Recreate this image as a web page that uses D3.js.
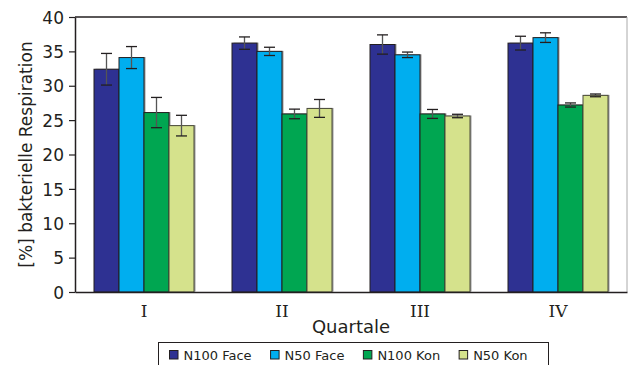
<!DOCTYPE html>
<html>
<head>
<meta charset="utf-8">
<script src="https://cdn.jsdelivr.net/npm/d3@7"></script>
<style>
  html, body { margin: 0; padding: 0; background: #fff; }
  svg { display: block; }
</style>
</head>
<body>
<svg id="chart" width="628" height="365"></svg>
<script>
// data
const quarters = ['I', 'II', 'III', 'IV'];
const series = ['N100 Face', 'N50 Face', 'N100 Kon', 'N50 Kon'];
const colors = ['#2e3192', '#00aeef', '#00a651', '#d5e28c'];
const values = [
  [32.4, 34.1, 26.1, 24.2],   // I
  [36.2, 35.0, 25.9, 26.7],   // II
  [36.0, 34.5, 25.9, 25.6],   // III
  [36.2, 37.0, 27.2, 28.6]    // IV
];
const errors = [
  [2.3, 1.6, 2.2, 1.5],
  [0.9, 0.6, 0.7, 1.3],
  [1.4, 0.4, 0.65, 0.25],
  [1.0, 0.7, 0.3, 0.2]
];
const yTicks = [0, 5, 10, 15, 20, 25, 30, 35, 40];

const SANS = '"DejaVu Sans", Verdana, sans-serif';
const SERIF = '"DejaVu Serif", serif';
const INK = '#231f20';

const svg = d3.select('#chart');
const m = { left: 75, right: 627, top: 17, bottom: 292 };

const x0 = d3.scaleBand().domain(quarters).range([m.left, m.right]);
const groupW = 100;
const x1 = d3.scaleBand().domain(series).range([0, groupW]);
const y = d3.scaleLinear().domain([0, 40]).range([m.bottom, m.top]);

const rows = [];
quarters.forEach((q, i) => series.forEach((s, j) => {
  rows.push({ q, s, j, v: values[i][j], e: errors[i][j] });
}));

// frame: top dark, right light gray
svg.append('line').attr('x1', m.left).attr('x2', m.right).attr('y1', m.top).attr('y2', m.top)
  .attr('stroke', INK).attr('stroke-width', 1.5);
svg.append('line').attr('x1', m.right).attr('x2', m.right).attr('y1', m.top).attr('y2', m.bottom)
  .attr('stroke', '#aaa').attr('stroke-width', 1);

const gx = q => x0(q) + (x0.bandwidth() - groupW) / 2;

// bar shadows (slight gray edge on the right)
svg.append('g').selectAll('rect').data(rows).enter().append('rect')
  .attr('x', d => gx(d.q) + x1(d.s) + 1.5)
  .attr('y', d => y(d.v) - 0.5)
  .attr('width', x1.bandwidth())
  .attr('height', d => y(0) - y(d.v))
  .attr('fill', '#999');

// bars
svg.append('g').selectAll('rect').data(rows).enter().append('rect')
  .attr('x', d => gx(d.q) + x1(d.s))
  .attr('y', d => y(d.v))
  .attr('width', x1.bandwidth())
  .attr('height', d => y(0) - y(d.v))
  .attr('fill', d => colors[d.j])
  .attr('stroke', d => d.j === 3 ? '#4a4a3a' : INK)
  .attr('stroke-width', 1);

// error bars: gray stem, dark caps
const err = svg.append('g').attr('stroke-width', 1.3);
const cap = 5.5;
rows.forEach(d => {
  const cx = gx(d.q) + x1(d.s) + x1.bandwidth() / 2;
  err.append('line').attr('x1', cx).attr('x2', cx).attr('y1', y(d.v + d.e)).attr('y2', y(d.v - d.e))
    .attr('stroke', '#555');
  [d.v + d.e, d.v - d.e].forEach(v => {
    err.append('line').attr('x1', cx - cap).attr('x2', cx + cap).attr('y1', y(v)).attr('y2', y(v))
      .attr('stroke', INK);
  });
});

// y axis
const yAxis = svg.append('g').attr('transform', `translate(${m.left},0)`)
  .call(d3.axisLeft(y).tickValues(yTicks).tickSize(6).tickPadding(5).tickSizeOuter(0));
yAxis.attr('font-family', null).attr('font-size', null);
yAxis.select('.domain').attr('stroke', INK).attr('stroke-width', 1.5);
yAxis.selectAll('.tick line').attr('stroke', INK).attr('stroke-width', 1.2);
yAxis.selectAll('.tick text').style('font-family', SANS)
  .style('font-size', '17px').attr('fill', INK).attr('dy', '0.36em');

// x axis
const xAxis = svg.append('g').attr('transform', `translate(0,${m.bottom})`)
  .call(d3.axisBottom(x0).tickSize(0).tickPadding(0).tickSizeOuter(0));
xAxis.attr('font-family', null).attr('font-size', null);
xAxis.select('.domain').attr('stroke', INK).attr('stroke-width', 1.5);
xAxis.selectAll('.tick text').style('font-family', SERIF)
  .style('font-size', '17px').attr('fill', INK).attr('dy', null).attr('y', 25);

// axis titles
svg.append('text').attr('x', (m.left + m.right) / 2).attr('y', 333)
  .attr('text-anchor', 'middle').style('font-family', SANS).style('font-size', '18px')
  .attr('fill', INK).text('Quartale');
svg.append('text').attr('transform', `translate(32,${(m.top + m.bottom) / 2}) rotate(-90)`)
  .attr('text-anchor', 'middle').style('font-family', SANS).style('font-size', '17px')
  .attr('fill', INK).text('[%] bakterielle Respiration');

// legend
const lg = svg.append('g');
lg.append('rect').attr('x', 158.5).attr('y', 342.5).attr('width', 390).attr('height', 30)
  .attr('fill', '#fff').attr('stroke', INK).attr('stroke-width', 1);
let lx = 169.5;
series.forEach((s, j) => {
  lg.append('rect').attr('x', lx).attr('y', 350.5).attr('width', 8.5).attr('height', 8.5)
    .attr('fill', colors[j]).attr('stroke', INK).attr('stroke-width', 1);
  const t = lg.append('text').attr('x', lx + 14).attr('y', 360)
    .style('font-family', SANS).style('font-size', '13px').attr('fill', INK).text(s);
  lx += 14 + t.node().getComputedTextLength() + 19;
});
</script>
</body>
</html>
